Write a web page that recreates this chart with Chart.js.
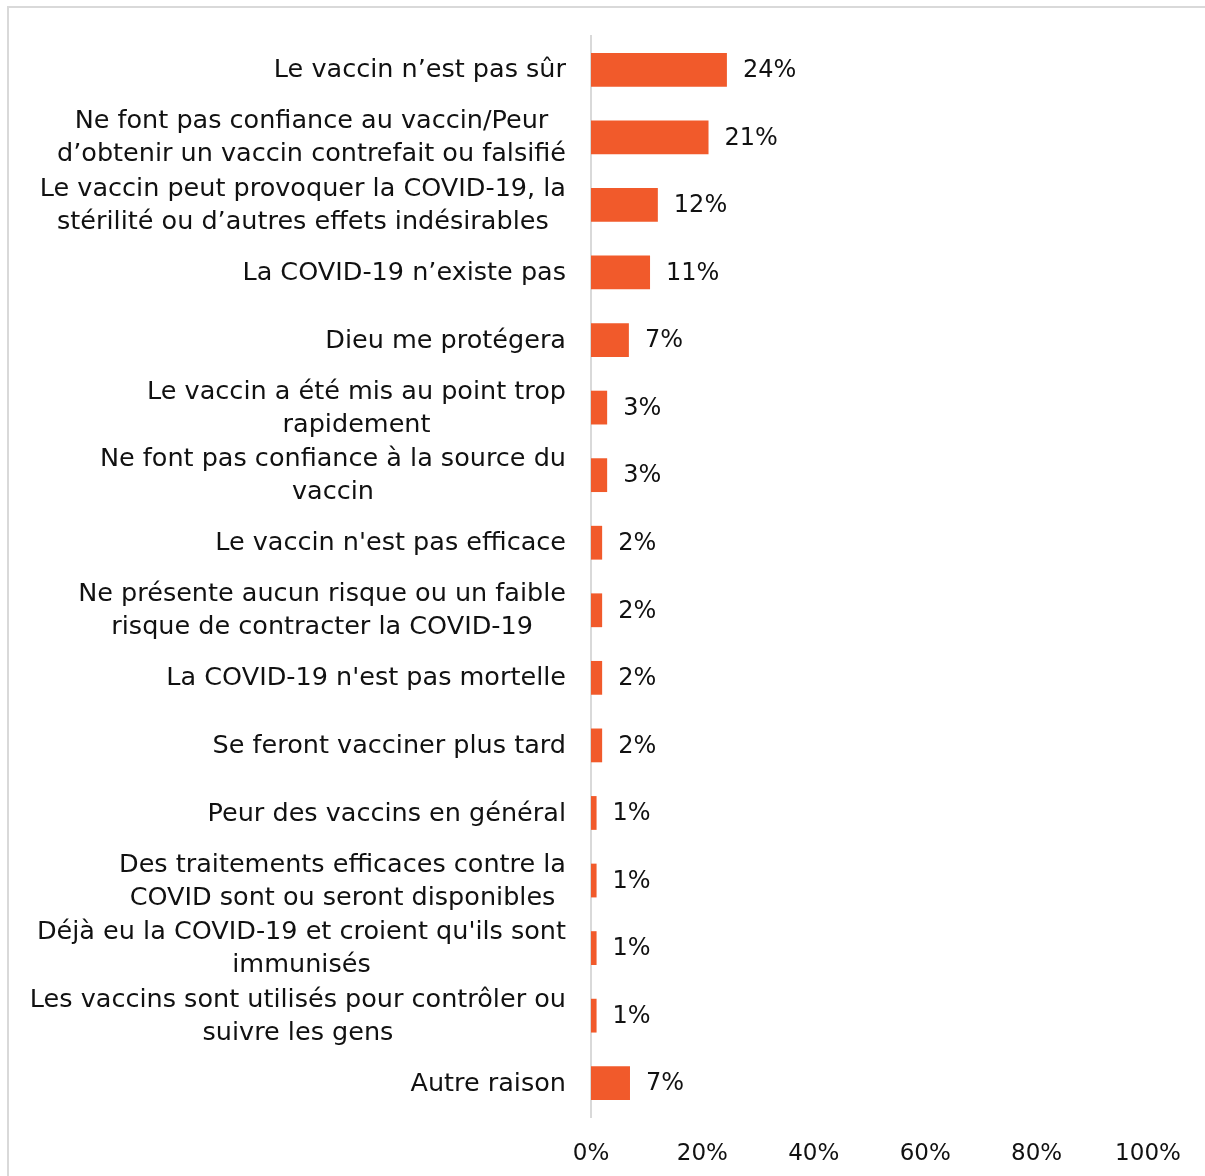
<!DOCTYPE html>
<html>
<head>
<meta charset="utf-8">
<script src="https://cdn.jsdelivr.net/npm/chart.js@4"></script>
<style>
  html, body { margin: 0; padding: 0; background: #fff; }
  #wrap { width: 1205px; height: 1176px; }
</style>
</head>
<body>
<div id="wrap"><canvas id="chart" width="1205" height="1176"></canvas></div>
<script>
// Reasons given (multi-line as in the original)
const reasons = [
  ['Le vaccin n’est pas sûr'],
  ['Ne font pas confiance au vaccin/Peur', 'd’obtenir un vaccin contrefait ou falsifié'],
  ['Le vaccin peut provoquer la COVID-19, la', 'stérilité ou d’autres effets indésirables'],
  ['La COVID-19 n’existe pas'],
  ['Dieu me protégera'],
  ['Le vaccin a été mis au point trop', 'rapidement'],
  ['Ne font pas confiance à la source du', 'vaccin'],
  ['Le vaccin n\'est pas efficace'],
  ['Ne présente aucun risque ou un faible', 'risque de contracter la COVID-19'],
  ['La COVID-19 n\'est pas mortelle'],
  ['Se feront vacciner plus tard'],
  ['Peur des vaccins en général'],
  ['Des traitements efficaces contre la', 'COVID sont ou seront disponibles'],
  ['Déjà eu la COVID-19 et croient qu\'ils sont', 'immunisés'],
  ['Les vaccins sont utilisés pour contrôler ou', 'suivre les gens'],
  ['Autre raison']
];

// Share of respondents (%)
const shares = [24.4, 21.1, 12.0, 10.6, 6.8, 2.9, 2.9, 2.0, 2.0, 2.0, 2.0, 1.0, 1.0, 1.0, 1.0, 7.0];
const shareLabels = ['24%', '21%', '12%', '11%', '7%', '3%', '3%', '2%', '2%', '2%', '2%', '1%', '1%', '1%', '1%', '7%'];

const xTicks = [0, 20, 40, 60, 80, 100];

const FONT = '"DejaVu Sans", sans-serif';
const BAR_COLOR = '#F15A2B';

// frame round the chart
const framePlugin = {
  id: 'frame',
  beforeDraw(chart) {
    const ctx = chart.ctx;
    ctx.save();
    ctx.strokeStyle = '#d9d9d9';
    ctx.lineWidth = 2;
    ctx.strokeRect(8, 7, 1400, 1400);
    ctx.restore();
  }
};

// category labels, block right-aligned, lines centred in the block
const catLabels = {
  id: 'catLabels',
  afterDraw(chart) {
    const ctx = chart.ctx;
    const yScale = chart.scales.y;
    const right = chart.chartArea.left - 25;
    const lineH = 33;
    ctx.save();
    ctx.font = '25.5px ' + FONT;
    ctx.fillStyle = '#111';
    ctx.textBaseline = 'middle';
    ctx.textAlign = 'center';
    reasons.forEach((lines, i) => {
      const yc = yScale.getPixelForValue(i);
      const w = Math.max(...lines.map(l => ctx.measureText(l).width));
      const cx = right - w / 2;
      const y0 = yc - (lines.length - 1) * lineH / 2;
      lines.forEach((l, j) => ctx.fillText(l, cx, y0 + j * lineH + 1));
    });
    ctx.restore();
  }
};

// value labels to the right of the bars
const valueLabels = {
  id: 'valueLabels',
  afterDatasetsDraw(chart) {
    const ctx = chart.ctx;
    const meta = chart.getDatasetMeta(0);
    ctx.save();
    ctx.font = '24px ' + FONT;
    ctx.fillStyle = '#111';
    ctx.textBaseline = 'middle';
    ctx.textAlign = 'left';
    meta.data.forEach((bar, i) => {
      ctx.fillText(shareLabels[i], bar.x + 16, bar.y + 1);
    });
    ctx.restore();
  }
};

new Chart(document.getElementById('chart'), {
  type: 'bar',
  data: {
    labels: reasons.map(r => r.join(' ')),
    datasets: [{
      data: shares,
      backgroundColor: BAR_COLOR,
      barPercentage: 0.5,
      categoryPercentage: 1.0
    }]
  },
  options: {
    indexAxis: 'y',
    responsive: false,
    animation: false,
    layout: { padding: { top: 36, right: 57, bottom: 0, left: 0 } },
    plugins: {
      legend: { display: false },
      tooltip: { enabled: false }
    },
    scales: {
      y: {
        ticks: { display: false },
        grid: { display: false },
        border: { display: true, color: '#d9d9d9', width: 2 },
        afterFit(scale) { scale.width = 591; }
      },
      x: {
        min: 0,
        max: 100,
        afterBuildTicks(scale) { scale.ticks = xTicks.map(v => ({ value: v })); },
        afterFit(scale) { scale.height = 59; },
        ticks: {
          callback: v => v + '%',
          font: { family: FONT, size: 23 },
          color: '#111',
          padding: 15,
          maxRotation: 0
        },
        grid: { display: false },
        border: { display: false }
      }
    }
  },
  plugins: [framePlugin, catLabels, valueLabels]
});
</script>
</body>
</html>
